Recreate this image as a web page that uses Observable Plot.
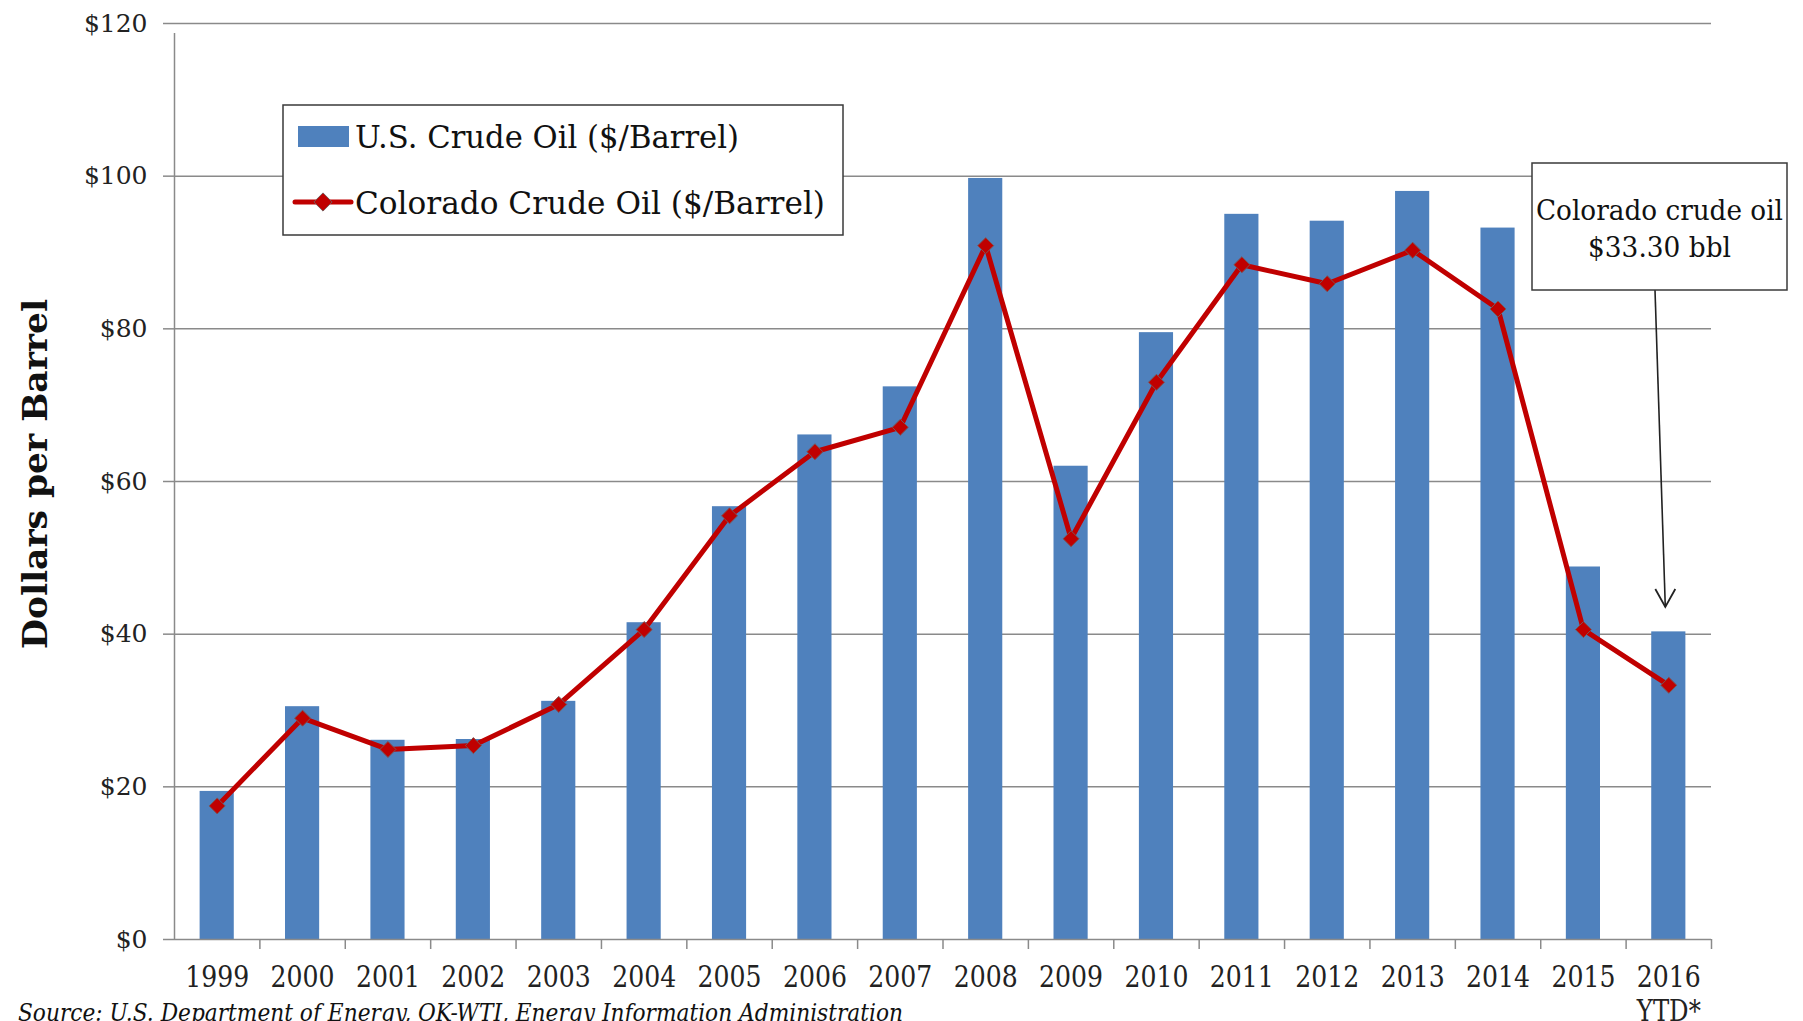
<!DOCTYPE html>
<html><head><meta charset="utf-8">
<script src="https://cdn.jsdelivr.net/npm/d3@7"></script>
<script src="https://cdn.jsdelivr.net/npm/@observablehq/plot@0.6"></script>
<style>
html,body{margin:0;padding:0;background:#fff;}
#chart{width:1803px;height:1021px;overflow:hidden;}
</style>
</head><body><div id="chart"></div>
<script>
const years = ["1999","2000","2001","2002","2003","2004","2005","2006","2007","2008","2009","2010","2011","2012","2013","2014","2015","2016"];
const yearLabels = ["1999","2000","2001","2002","2003","2004","2005","2006","2007","2008","2009","2010","2011","2012","2013","2014","2015","2016\nYTD*"];
const usCrude = [19.4, 30.5, 26.1, 26.2, 31.2, 41.5, 56.7, 66.1, 72.4, 99.7, 62.0, 79.5, 95.0, 94.1, 98.0, 93.2, 48.8, 40.3];
const coloradoCrude = [17.5, 29.0, 24.9, 25.4, 30.8, 40.6, 55.5, 63.9, 67.1, 90.9, 52.5, 73.0, 88.4, 85.9, 90.3, 82.6, 40.6, 33.3];
const yTicks = [0, 20, 40, 60, 80, 100, 120];
const legendLabels = ["U.S. Crude Oil ($/Barrel)", "Colorado Crude Oil ($/Barrel)"];
const calloutLines = ["Colorado crude oil", "$33.30 bbl"];
const calloutTarget = 43.5;
const yTitle = "Dollars per Barrel";
const sourceNote = "Source: U.S. Department of Energy, OK-WTI, Energy Information Administration";

const data = years.map((year, i) => ({year, label: yearLabels[i], us: usCrude[i], co: coloradoCrude[i]}));

const W = 1803, H = 1021, mL = 174, mR = 92, mT = 23, mB = 82;
const step = (W - mL - mR) / years.length;
const gridColor = "#8a8a8a";
const textColor = "#222222";
const barColor = "#4F81BD";
const lineColor = "#C00000";
const markerStroke = "#7a5555";
const markerR = 7.2;

const plot = Plot.plot({
  width: W, height: H,
  marginLeft: mL, marginRight: mR, marginTop: mT, marginBottom: mB,
  style: {fontFamily: "DejaVu Serif", fontSize: "24px", color: textColor, background: "white", overflow: "visible"},
  x: {type: "band", domain: years, paddingInner: 0.6, paddingOuter: 0.3, round: false, axis: null},
  y: {domain: [0, 120], axis: null},
  marks: [
    Plot.ruleY(yTicks.filter(d => d > 0), {stroke: gridColor, strokeWidth: 1.5}),
    Plot.barY(data, {x: "year", y: "us", fill: barColor}),
    Plot.ruleY([0], {stroke: gridColor, strokeWidth: 1.5}),
    Plot.ruleX([years[0]], {x: d => d, y1: 0, y2: 120, dx: -step / 2, insetBottom: -10, stroke: gridColor, strokeWidth: 1.5}),
    Plot.ruleX(years, {x: d => d, y1: 0, y2: 0, dx: step / 2, insetBottom: -10, stroke: gridColor, strokeWidth: 1.5}),
    Plot.axisY(yTicks, {tickSize: 11, tickPadding: 16, tickFormat: d => "$" + d, stroke: gridColor, strokeWidth: 1.5, fill: textColor, fontSize: 25}),
    Plot.text(data, {x: "year", y: 0, text: "label", lineAnchor: "top", dy: 24, lineHeight: 1.12, fontSize: 30, fill: textColor}),
    Plot.line(data, {x: "year", y: "co", stroke: lineColor, strokeWidth: 5, strokeLinejoin: "round"}),
    Plot.dot(data, {x: "year", y: "co", symbol: "diamond2", r: markerR, fill: lineColor, stroke: markerStroke, strokeWidth: 1})
  ]
});
document.getElementById("chart").appendChild(plot);

const svg = d3.select(plot);
// condense x labels
svg.selectAll('g[aria-label="text"] text').each(function() {
  const t = d3.select(this);
  const spans = t.selectAll("tspan");
  if (spans.size() > 0) {
    spans.each(function() {
      const s = d3.select(this);
      s.attr("textLength", s.text().length * 16).attr("lengthAdjust", "spacingAndGlyphs");
    });
  } else {
    t.attr("textLength", t.text().length * 16).attr("lengthAdjust", "spacingAndGlyphs");
  }
});

const sx = plot.scale("x"), sy = plot.scale("y");

// y-axis title
svg.append("text")
  .attr("transform", "translate(47,474) rotate(-90)")
  .attr("text-anchor", "middle")
  .attr("font-family", "DejaVu Serif").attr("font-weight", "bold").attr("font-size", 34)
  .attr("fill", "#111")
  .attr("textLength", 350).attr("lengthAdjust", "spacingAndGlyphs")
  .text(yTitle);

// legend
const lg = svg.append("g");
lg.append("rect").attr("x", 283).attr("y", 105).attr("width", 560).attr("height", 130)
  .attr("fill", "white").attr("stroke", "#3a3a3a").attr("stroke-width", 1.5);
lg.append("rect").attr("x", 298).attr("y", 126).attr("width", 51).attr("height", 21).attr("fill", barColor);
lg.append("line").attr("x1", 295).attr("x2", 351).attr("y1", 202).attr("y2", 202)
  .attr("stroke", lineColor).attr("stroke-width", 5).attr("stroke-linecap", "round");
lg.append("path").attr("transform", "translate(323,202)")
  .attr("d", d3.symbol(d3.symbolDiamond2, Math.PI * 8.2 * 8.2)())
  .attr("fill", lineColor).attr("stroke", markerStroke).attr("stroke-width", 1);
[[legendLabels[0], 147.5, 384], [legendLabels[1], 213.5, 470]].forEach(([txt, y, len]) => {
  lg.append("text").attr("x", 355).attr("y", y).attr("text-anchor", "start")
    .attr("font-family", "DejaVu Serif").attr("font-size", 32).attr("fill", "#111")
    .attr("textLength", len).attr("lengthAdjust", "spacingAndGlyphs").text(txt);
});

// callout
const cg = svg.append("g");
const tipX = sx.apply(years[years.length - 1]) + sx.bandwidth / 2 - 3;
const tipY = sy.apply(calloutTarget);
cg.append("line").attr("x1", 1655).attr("y1", 290).attr("x2", tipX).attr("y2", tipY)
  .attr("stroke", "#222").attr("stroke-width", 1.6);
cg.append("path").attr("d", `M${tipX - 10},${tipY - 18}L${tipX},${tipY}L${tipX + 10},${tipY - 18}`)
  .attr("fill", "none").attr("stroke", "#222").attr("stroke-width", 1.8);
cg.append("rect").attr("x", 1532).attr("y", 163).attr("width", 255).attr("height", 127)
  .attr("fill", "white").attr("stroke", "#3a3a3a").attr("stroke-width", 1.5);
[[calloutLines[0], 220, 247], [calloutLines[1], 257, 143]].forEach(([txt, y, len]) => {
  cg.append("text").attr("x", 1659.5).attr("y", y).attr("text-anchor", "middle")
    .attr("font-family", "DejaVu Serif").attr("font-size", 28).attr("fill", "#111")
    .attr("textLength", len).attr("lengthAdjust", "spacingAndGlyphs").text(txt);
});

// source
svg.append("text").attr("x", 18).attr("y", 1021).attr("text-anchor", "start")
  .attr("font-family", "DejaVu Serif").attr("font-style", "italic").attr("font-size", 24)
  .attr("fill", "#111")
  .attr("textLength", 885).attr("lengthAdjust", "spacingAndGlyphs")
  .text(sourceNote);
</script>
</body></html>
